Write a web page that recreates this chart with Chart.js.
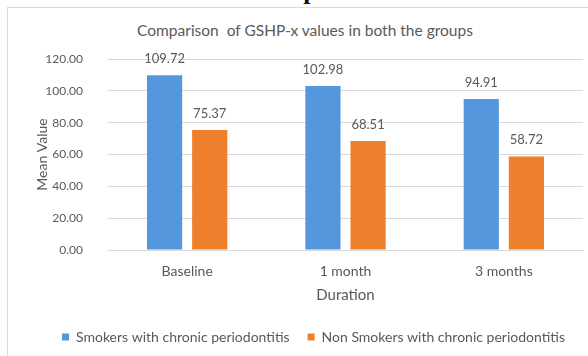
<!DOCTYPE html>
<html>
<head>
<meta charset="utf-8">
<script src="https://cdn.jsdelivr.net/npm/chart.js@4.4.1/dist/chart.umd.min.js"></script>
<style>
  html, body { margin: 0; padding: 0; width: 588px; height: 356px; overflow: hidden; background: #ffffff; }
  #caption {
    position: absolute; left: 0; width: 610px; top: -22px; text-align: center;
    font-family: "Liberation Serif", "DejaVu Serif", serif; font-weight: bold;
    font-size: 26px; line-height: 26px; color: #111111;
  }
  #frame {
    position: absolute; left: 7px; top: 7px; width: 602px; height: 349px;
    border-top: 1px solid #d9d9d9; border-left: 1px solid #d9d9d9; box-sizing: border-box;
  }
  #title {
    position: absolute; left: 0; width: 610px; top: 21px; text-align: center;
    font-family: Lato, "Open Sans", sans-serif; font-size: 15.5px; line-height: 18px; color: #595959;
    white-space: pre;
  }
  #wrap { position: absolute; left: 7px; top: 7px; width: 602px; height: 349px; }
</style>
</head>
<body>
<div id="caption">Graph 6</div>
<div id="frame"></div>
<div id="title">Comparison  of GSHP-x values in both the groups</div>
<div id="wrap"><canvas id="chart" width="602" height="349"></canvas></div>
<script>
// Durations on the x axis
const categories = ["Baseline", "1 month", "3 months"];
// Mean GSHP-x per group
const smokers = [109.72, 102.98, 94.91];
const nonSmokers = [75.37, 68.51, 58.72];
const seriesNames = ["Smokers with chronic periodontitis", "Non Smokers with chronic periodontitis"];
// Value axis
const yTicks = [0, 20, 40, 60, 80, 100, 120];

const TEXT = "#595959";
const FONT = "Lato, 'Open Sans', sans-serif";

// Writes each bar's value above it
const valueLabels = {
  id: "valueLabels",
  afterDatasetsDraw(chart) {
    const ctx = chart.ctx;
    ctx.save();
    ctx.font = "13px " + FONT;
    ctx.fillStyle = TEXT;
    ctx.textAlign = "center";
    ctx.textBaseline = "middle";
    chart.data.datasets.forEach((ds, di) => {
      chart.getDatasetMeta(di).data.forEach((bar, i) => {
        ctx.fillText(ds.data[i].toFixed(2), bar.x, bar.y - 16.5);
      });
    });
    ctx.restore();
  }
};

new Chart(document.getElementById("chart"), {
  type: "bar",
  data: {
    labels: categories,
    datasets: [
      { label: seriesNames[0], data: smokers, backgroundColor: "#5597DC",
        categoryPercentage: 0.57, barPercentage: 0.78 },
      { label: seriesNames[1], data: nonSmokers, backgroundColor: "#EE7F2D",
        categoryPercentage: 0.57, barPercentage: 0.78 }
    ]
  },
  options: {
    responsive: false,
    animation: false,
    layout: { padding: { left: 37, right: 26, top: 52, bottom: 2 } },
    scales: {
      x: {
        grid: { display: false, drawTicks: false },
        border: { display: true, color: "#d9d9d9" },
        ticks: { color: TEXT, font: { family: FONT, size: 14 }, padding: 13 },
        title: { display: true, text: "Duration", color: TEXT,
                 font: { family: FONT, size: 15 }, padding: { top: 0, bottom: 8 } },
        afterFit(scale) { scale.height = 62; }
      },
      y: {
        min: 0, max: 120,
        afterBuildTicks(scale) { scale.ticks = yTicks.map(v => ({ value: v })); },
        grid: { color: "#d9d9d9", drawTicks: false },
        border: { display: false },
        ticks: { color: TEXT, font: { family: FONT, size: 12 }, padding: 25,
                 callback: v => Number(v).toFixed(2) },
        title: { display: true, text: "Mean Value", color: TEXT,
                 font: { family: FONT, size: 14 }, padding: { top: -10.4, bottom: 0 } },
        afterFit(scale) { scale.width = 64; }
      }
    },
    plugins: {
      title: { display: false },
      legend: {
        position: "bottom",
        align: "start",
        labels: { color: TEXT, font: { family: FONT, size: 14 },
                  boxWidth: 7, boxHeight: 7, padding: 18 }
      },
      tooltip: { enabled: false }
    }
  },
  plugins: [valueLabels]
});
</script>
</body>
</html>
